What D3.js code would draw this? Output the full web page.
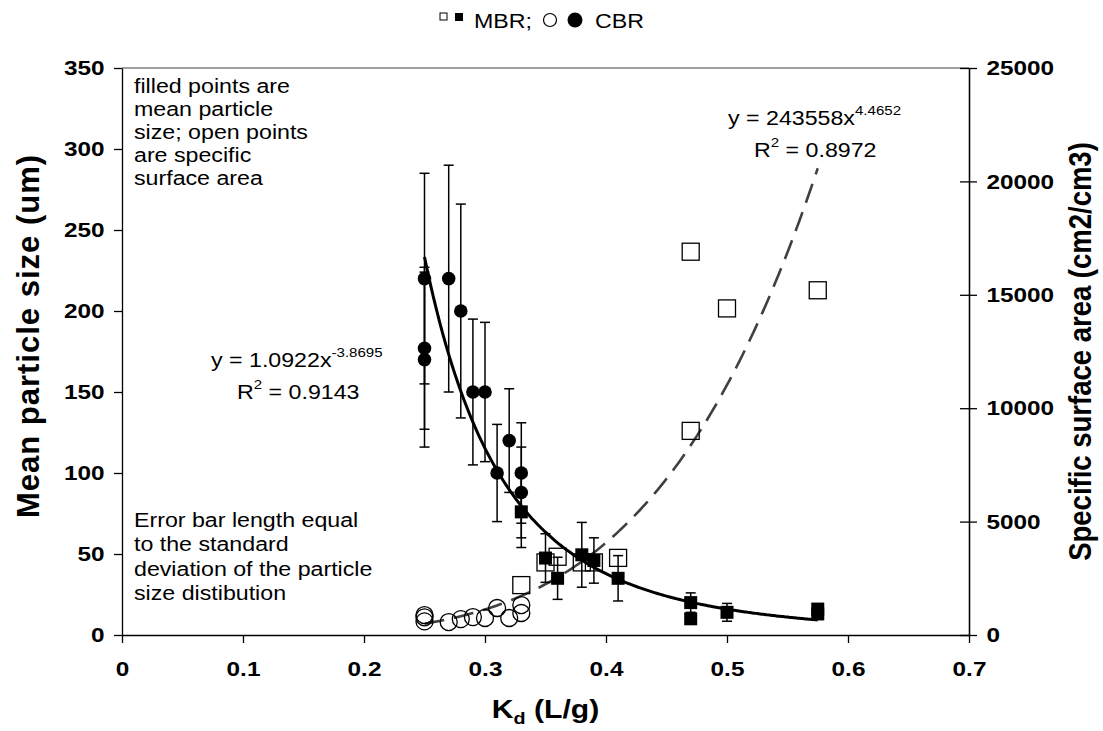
<!DOCTYPE html>
<html>
<head>
<meta charset="utf-8">
<script src="https://cdn.jsdelivr.net/npm/d3@7"></script>
<style>
    body { margin: 0; background: #fff; }
    text { font-family: "Liberation Sans", Arial, sans-serif; }
</style>
</head>
<body>
<div id="main"></div>
<script>
// ---- data ----
const xTicks = [0, 0.1, 0.2, 0.3, 0.4, 0.5, 0.6, 0.7];
const leftTicks = [0, 50, 100, 150, 200, 250, 300, 350];
const rightTicks = [0, 5000, 10000, 15000, 20000, 25000];

// CBR: mean particle size (filled circles) with std dev, specific surface area (open circles)
const cbrKd = [0.25, 0.25, 0.25, 0.27, 0.28, 0.29, 0.30, 0.31, 0.32, 0.33, 0.33];
const cbrSize = [220, 177, 170, 220, 200, 150, 150, 100, 120, 100, 88];
const cbrSd = [65, 50, 54, 70, 66, 45, 43, 30, 32, 31, 28];
const cbrSsaKd = [0.25, 0.25, 0.25, 0.27, 0.28, 0.29, 0.30, 0.31, 0.32, 0.33, 0.33];
const cbrSsa = [880, 780, 600, 570, 700, 790, 750, 1190, 750, 1320, 970];

// MBR: mean particle size (filled squares) with std dev, specific surface area (open squares)
const mbrKd = [0.33, 0.35, 0.36, 0.38, 0.39, 0.41, 0.47, 0.47, 0.50, 0.575, 0.575];
const mbrSize = [76, 47.5, 35, 49.5, 46, 35, 20, 10, 14, 16, 13];
const mbrSd = [22, 15, 13, 20, 14, 14, 6, 3, 5.5, 2, 2];
const mbrSsaKd = [0.33, 0.35, 0.36, 0.38, 0.39, 0.41, 0.47, 0.47, 0.50, 0.575];
const mbrSsa = [2200, 3200, 3450, 3200, 3200, 3400, 16900, 9000, 14400, 15200];

// power trendlines printed on the chart
const sizeFit = { a: 1.0922, b: -3.8695, r2: "0.9143", from: 0.25, to: 0.575 };
const ssaFit = { a: 243558, b: 4.4652, r2: "0.8972", from: 0.25, to: 0.575 };

const SX = 1.16;   // the original is a bit wider than tall, text included
const FONT = "\"Liberation Sans\", Arial, sans-serif";

const svg = d3.select("#main").append("svg")
    .attr("width", 1103)
    .attr("height", 731);
svg.append("rect")
    .attr("width", "100%")
    .attr("height", "100%")
    .attr("fill", "#fff");

const x = d3.scaleLinear().domain([0, 0.7]).range([122, 969]);
const yL = d3.scaleLinear().domain([0, 350]).range([635, 68]);
const yR = d3.scaleLinear().domain([0, 25000]).range([635, 68]);

// top border of plot area
svg.append("line")
    .attr("x1", x(0)).attr("x2", x(0.7))
    .attr("y1", yL(350)).attr("y2", yL(350))
    .attr("stroke", "#808080").attr("stroke-width", 1.3);

function styleAxis(g) {
    g.attr("font-family", FONT).attr("font-size", 21).attr("font-weight", "bold");
    g.selectAll("path, line").attr("stroke", "#000").attr("stroke-width", 1.3);
    g.selectAll("text").attr("fill", "#000").attr("transform", `scale(${SX},1)`);
}

svg.append("g")
    .attr("transform", `translate(0,${yL(0)})`)
    .call(d3.axisBottom(x).tickValues(xTicks).tickSize(8).tickSizeOuter(0).tickPadding(18)
        .tickFormat(d => d === 0 ? "0" : d3.format(".1f")(d)))
    .call(styleAxis);

svg.append("g")
    .attr("transform", `translate(${x(0)},0)`)
    .call(d3.axisLeft(yL).tickValues(leftTicks).tickSize(8).tickSizeOuter(0).tickPadding(7))
    .call(styleAxis);

svg.append("g")
    .attr("transform", `translate(${x(0.7)},0)`)
    .call(d3.axisRight(yR).tickValues(rightTicks).tickSize(8).tickSizeOuter(0).tickPadding(7)
        .tickFormat(d3.format("d")))
    .call(styleAxis);
// right ticks cross the axis
svg.append("g")
    .attr("transform", `translate(${x(0.7)},0)`)
    .call(d3.axisLeft(yR).tickValues(rightTicks).tickSize(9).tickSizeOuter(0).tickFormat(""))
    .call(styleAxis);

// axis titles
const xTitle = svg.append("text")
    .attr("transform", `translate(${x(0.35)},718) scale(${SX},1)`)
    .attr("text-anchor", "middle")
    .attr("font-size", 26).attr("font-weight", "bold");
xTitle.append("tspan").text("K");
xTitle.append("tspan").attr("font-size", 17).attr("dy", 6).text("d");
xTitle.append("tspan").attr("dy", -6).text(" (L/g)");

svg.append("text")
    .attr("transform", "translate(28,336) rotate(-90)")
    .attr("text-anchor", "middle").attr("dy", "0.36em")
    .attr("font-size", 31).attr("font-weight", "bold")
    .attr("letter-spacing", 1)
    .text("Mean particle size (um)");

svg.append("text")
    .attr("transform", `translate(1080,${yL(175)}) scale(${SX},1) rotate(-90)`)
    .attr("text-anchor", "middle").attr("dy", "0.36em")
    .attr("font-size", 27.5).attr("font-weight", "bold")
    .text("Specific surface area (cm2/cm3)");

// trendlines
const plotG = svg.append("g");
const fitLine = (fit, y) => d3.line()
    .x(d => x(d))
    .y(d => y(fit.a * Math.pow(d, fit.b)))
    .curve(d3.curveMonotoneX)(d3.range(fit.from, fit.to + 1e-9, 0.0025));

plotG.append("path")
    .attr("d", fitLine(ssaFit, yR))
    .attr("fill", "none").attr("stroke", "#404040")
    .attr("stroke-width", 2.6).attr("stroke-dasharray", "20,10");

plotG.append("path")
    .attr("d", fitLine(sizeFit, yL))
    .attr("fill", "none").attr("stroke", "#000")
    .attr("stroke-width", 3);

// error bars
function errorBars(kd, vals, sds) {
    const g = plotG.append("g").attr("stroke", "#000").attr("stroke-width", 1.5);
    kd.forEach((k, i) => {
        const cx = x(k), lo = yL(vals[i] - sds[i]), hi = yL(vals[i] + sds[i]);
        g.append("line").attr("x1", cx).attr("x2", cx).attr("y1", lo).attr("y2", hi);
        g.append("line").attr("x1", cx - 5).attr("x2", cx + 5).attr("y1", lo).attr("y2", lo);
        g.append("line").attr("x1", cx - 5).attr("x2", cx + 5).attr("y1", hi).attr("y2", hi);
    });
}
errorBars(cbrKd, cbrSize, cbrSd);
errorBars(mbrKd, mbrSize, mbrSd);

// open markers (surface area, right axis)
plotG.selectAll("circle.ssa")
    .data(cbrSsaKd.map((k, i) => [k, cbrSsa[i]]))
    .join("circle").attr("class", "ssa")
    .attr("cx", d => x(d[0])).attr("cy", d => yR(d[1])).attr("r", 8.5)
    .attr("fill", "none").attr("stroke", "#000").attr("stroke-width", 1.3);

plotG.selectAll("rect.ssa")
    .data(mbrSsaKd.map((k, i) => [k, mbrSsa[i]]))
    .join("rect").attr("class", "ssa")
    .attr("x", d => x(d[0]) - 8.5).attr("y", d => yR(d[1]) - 8.5)
    .attr("width", 17).attr("height", 17)
    .attr("fill", "none").attr("stroke", "#000").attr("stroke-width", 1.3);

// filled markers (mean size, left axis)
plotG.selectAll("circle.size")
    .data(cbrKd.map((k, i) => [k, cbrSize[i]]))
    .join("circle").attr("class", "size")
    .attr("cx", d => x(d[0])).attr("cy", d => yL(d[1])).attr("r", 6.8)
    .attr("fill", "#000");

plotG.selectAll("rect.size")
    .data(mbrKd.map((k, i) => [k, mbrSize[i]]))
    .join("rect").attr("class", "size")
    .attr("x", d => x(d[0]) - 6.5).attr("y", d => yL(d[1]) - 6.5)
    .attr("width", 13).attr("height", 13)
    .attr("fill", "#000");

// text helpers
function textBlock(lines, x0, y0, step) {
    const t = svg.append("text")
        .attr("transform", `translate(${x0},${y0}) scale(${SX},1)`)
        .attr("font-size", 20);
    lines.forEach((s, i) => t.append("tspan").attr("x", 0).attr("y", i * step).text(s));
}

function equation(x0, y0, lead, expo, r2) {
    const t = svg.append("text")
        .attr("transform", `translate(${x0},${y0}) scale(${SX},1)`)
        .attr("font-size", 20);
    t.append("tspan").text(lead);
    t.append("tspan").attr("font-size", 13).attr("dy", -10).text(expo);
    const r = svg.append("text")
        .attr("transform", `translate(${x0 + 26},${y0 + 32}) scale(${SX},1)`)
        .attr("font-size", 20);
    r.append("tspan").text("R");
    r.append("tspan").attr("font-size", 13).attr("dy", -10).text("2");
    r.append("tspan").attr("dy", 10).text(" = " + r2);
}

textBlock(["filled points are", "mean particle", "size; open points", "are specific", "surface area"], 134, 93, 23);
textBlock(["Error bar length equal", "to the standard", "deviation of the particle", "size distibution"], 134, 527, 24.5);

equation(211, 367, `y = ${sizeFit.a}x`, String(sizeFit.b), sizeFit.r2);
equation(728, 125, `y = ${ssaFit.a}x`, String(ssaFit.b), ssaFit.r2);

// legend
const lg = svg.append("g");
lg.append("rect").attr("x", 440).attr("y", 13).attr("width", 7).attr("height", 7)
    .attr("fill", "none").attr("stroke", "#000").attr("stroke-width", 1);
lg.append("rect").attr("x", 455).attr("y", 13).attr("width", 8).attr("height", 8)
    .attr("fill", "#000");
lg.append("text").attr("transform", `translate(474,28) scale(${SX},1)`)
    .attr("font-size", 20).text("MBR;");
lg.append("circle").attr("cx", 550).attr("cy", 20).attr("r", 6.5)
    .attr("fill", "none").attr("stroke", "#000").attr("stroke-width", 1.2);
lg.append("circle").attr("cx", 575).attr("cy", 20).attr("r", 7.5)
    .attr("fill", "#000");
lg.append("text").attr("transform", `translate(595,28) scale(${SX},1)`)
    .attr("font-size", 20).text("CBR");
</script>
</body>
</html>
